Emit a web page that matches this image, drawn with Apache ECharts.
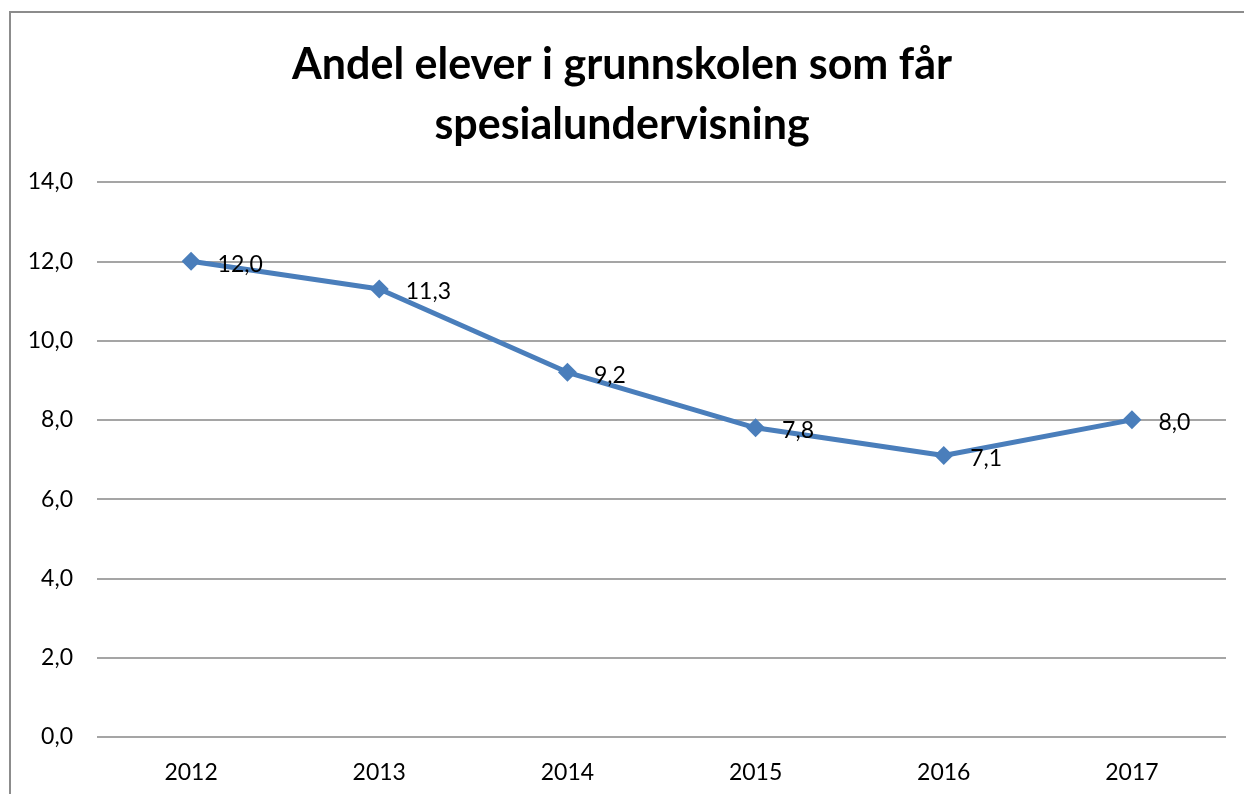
<!DOCTYPE html>
<html>
<head>
<meta charset="utf-8">
<script src="https://cdn.jsdelivr.net/npm/echarts@6/dist/echarts.min.js"></script>
<style>
  html, body { margin: 0; padding: 0; background: #fff; }
  #frame {
    position: absolute; left: 9px; top: 11px; width: 1400px; height: 900px;
    border-left: 2px solid #8c8c8c; border-top: 2px solid #8c8c8c;
  }
  #main { position: absolute; left: 0; top: 0; width: 1244px; height: 794px; }
</style>
</head>
<body>
<div id="frame"></div>
<div id="main"></div>
<script>
const years = ['2012', '2013', '2014', '2015', '2016', '2017'];
const andel = [12.0, 11.3, 9.2, 7.8, 7.1, 8.0];
const titleText = 'Andel elever i grunnskolen som får\nspesialundervisning';

const fmt = v => v.toFixed(1).replace('.', ',');
const font = 'Lato, "Open Sans", sans-serif';

let chart = echarts.init(document.getElementById('main'));
chart.setOption({
  animation: false,
  title: {
    text: titleText,
    left: 'center',
    top: 30,
    textStyle: { fontFamily: font, fontSize: 43, fontWeight: 'bold', color: '#000', lineHeight: 60 }
  },
  grid: { left: 97, right: 18, top: 182, bottom: 57, containLabel: false },
  xAxis: {
    type: 'category',
    data: years,
    axisLine: { show: false },
    axisTick: { show: false },
    axisLabel: { color: '#000', fontSize: 23, fontFamily: font, margin: 24 }
  },
  yAxis: {
    type: 'value',
    min: 0, max: 14, interval: 2,
    axisLine: { show: false },
    axisTick: { show: false },
    axisLabel: { color: '#000', fontSize: 23, fontFamily: font, margin: 24, formatter: fmt },
    splitLine: { lineStyle: { color: '#878787', width: 1.5 } }
  },
  series: [{
    type: 'line',
    data: andel,
    symbol: 'diamond',
    symbolSize: 19,
    itemStyle: { color: '#4a7ebb' },
    lineStyle: { color: '#4a7ebb', width: 5 },
    label: {
      show: true, position: 'right', distance: 17,
      color: '#000', fontSize: 23, fontFamily: font,
      offset: [0, 3],
      formatter: p => fmt(p.value)
    }
  }]
});
</script>
</body>
</html>
